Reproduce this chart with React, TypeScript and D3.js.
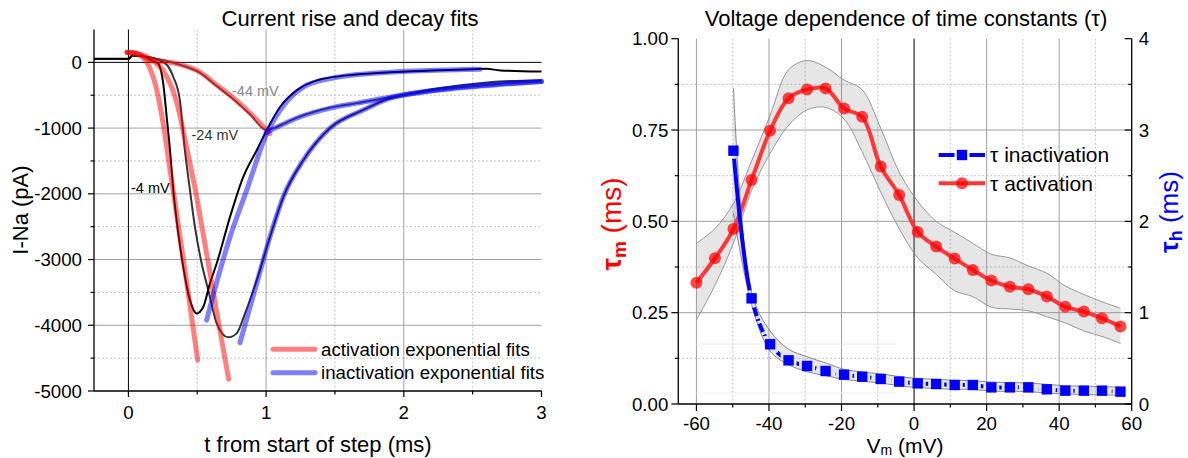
import React from 'react';
import * as d3 from 'd3';

const FONT = "'Liberation Sans', Arial, Helvetica, sans-serif";

// ---------- Left panel: current traces (t in ms, I in pA) ----------
const traceNeg4: number[][] = [
  [-0.25, 55], [0, 55], [0.03, 105], [0.1, 95], [0.16, 40], [0.217, -20], [0.253, -324], [0.278, -831],
  [0.302, -1337], [0.326, -1945], [0.362, -2603], [0.398, -3111], [0.447, -3617], [0.496, -3819],
  [0.544, -3718], [0.592, -3363], [0.641, -3060], [0.738, -2351], [0.834, -1743], [0.932, -1337],
  [1.004, -1033], [1.101, -679], [1.222, -426], [1.368, -274], [1.586, -198], [1.9, -150], [2.2, -125],
  [2.5, -105], [2.6, -98], [2.7, -122], [3.0, -140],
];
const traceNeg24: number[][] = [
  [-0.25, 50], [0, 50], [0.03, 105], [0.1, 95], [0.2, 50], [0.28, -40], [0.326, -223], [0.374, -578],
  [0.41, -1337], [0.447, -1945], [0.483, -2503], [0.532, -3060], [0.58, -3465], [0.641, -3971],
  [0.725, -4184], [0.786, -4123], [0.847, -3819], [0.932, -3313], [1.028, -2655], [1.125, -2047],
  [1.27, -1489], [1.464, -1000], [1.71, -720], [1.9, -545], [2.0, -495], [2.31, -380], [2.77, -285], [3.0, -275],
];
const traceNeg44: number[][] = [
  [-0.25, 50], [0, 50], [0.03, 105], [0.1, 95], [0.2, 60], [0.35, -20], [0.52, -160], [0.641, -360],
  [0.762, -560], [0.883, -790], [1.004, -1030], [1.1, -960], [1.22, -845], [1.46, -690], [1.66, -620],
  [1.9, -530], [2.3, -405], [2.7, -325], [3.0, -290],
];
const actFitNeg4: number[][] = [
  [-0.01, 150], [0.05, 140], [0.1, 90], [0.15, -60], [0.2, -370], [0.25, -900], [0.3, -1600],
  [0.35, -2300], [0.42, -3300], [0.503, -4530],
];
const actFitNeg24: number[][] = [
  [-0.01, 150], [0.05, 140], [0.12, 100], [0.18, 20], [0.25, -120], [0.35, -600], [0.423, -1300],
  [0.496, -2050], [0.544, -2620], [0.592, -3200], [0.641, -3800], [0.728, -4820],
];
const actFitNeg44: number[][] = [
  [-0.01, 150], [0.05, 140], [0.156, 40], [0.35, -20], [0.52, -150], [0.641, -345], [0.762, -540],
  [0.883, -770], [1.028, -1084],
];
const inactFitNeg4: number[][] = [
  [0.568, -3921], [0.65, -3280], [0.738, -2655], [0.859, -1945], [1.004, -1084], [1.101, -729],
  [1.27, -375], [1.464, -248], [1.9, -150], [2.2, -122], [2.555, -106],
];
const inactFitNeg24: number[][] = [
  [0.81, -4266], [0.932, -3363], [1.028, -2655], [1.125, -2047], [1.27, -1489], [1.464, -1000],
  [1.71, -720], [1.9, -545], [2.3, -405], [2.7, -330], [3.0, -290],
];
const inactFitNeg44: number[][] = [
  [1.0, -1070], [1.1, -965], [1.22, -850], [1.46, -700], [1.66, -620], [1.9, -530], [2.3, -410],
  [2.7, -335], [3.0, -292],
];
const xTicksLeft = [0, 1, 2, 3];
const xMinorLeft = [0.5, 1.5, 2.5];
const yTicksLeft = [0, -1000, -2000, -3000, -4000, -5000];
const yMinorLeft = [-500, -1500, -2500, -3500, -4500];

// ---------- Right panel: time constants vs voltage ----------
const voltages = [
  -60, -54.9, -49.8, -44.8, -39.7, -34.6, -29.5, -24.4, -19.3, -14.3, -9.2, -4.1,
  1.0, 6.1, 11.2, 16.2, 21.3, 26.4, 31.5, 36.6, 41.7, 46.8, 51.8, 56.9,
];
const tauAct = [
  0.332, 0.399, 0.479, 0.613, 0.748, 0.837, 0.861, 0.864, 0.809, 0.786, 0.650, 0.572,
  0.471, 0.431, 0.398, 0.367, 0.338, 0.321, 0.314, 0.294, 0.266, 0.253, 0.235, 0.212,
];
const tauActUpper = [
  0.44, 0.48, 0.549, 0.665, 0.79, 0.915, 0.94, 0.922, 0.887, 0.86, 0.755, 0.635,
  0.555, 0.50, 0.47, 0.44, 0.41, 0.40, 0.378, 0.358, 0.323, 0.30, 0.28, 0.262,
];
const tauActLower = [
  0.23, 0.325, 0.44, 0.585, 0.686, 0.763, 0.805, 0.812, 0.78, 0.69, 0.58, 0.48,
  0.40, 0.355, 0.31, 0.294, 0.265, 0.26, 0.255, 0.239, 0.222, 0.20, 0.185, 0.166,
];
const voltagesInact = [
  -49.8, -44.8, -39.7, -34.6, -29.5, -24.4, -19.3, -14.3, -9.2, -4.1,
  1.0, 6.1, 11.2, 16.2, 21.3, 26.4, 31.5, 36.6, 41.7, 46.8, 51.8, 56.9,
];
const tauInact = [
  2.774, 1.157, 0.654, 0.478, 0.416, 0.361, 0.321, 0.299, 0.274, 0.245,
  0.226, 0.219, 0.208, 0.208, 0.182, 0.182, 0.182, 0.161, 0.146, 0.146, 0.146, 0.135,
];
const tauInactUpper = [
  3.46, 1.22, 0.80, 0.60, 0.518, 0.45, 0.38, 0.35, 0.33, 0.30,
  0.28, 0.27, 0.26, 0.255, 0.24, 0.235, 0.23, 0.215, 0.20, 0.195, 0.19, 0.185,
];
const tauInactLower = [
  2.09, 1.09, 0.58, 0.43, 0.354, 0.31, 0.27, 0.25, 0.23, 0.20,
  0.18, 0.17, 0.16, 0.16, 0.14, 0.14, 0.135, 0.12, 0.11, 0.105, 0.10, 0.095,
];
const xTicksRight = [-60, -40, -20, 0, 20, 40, 60];
const xMinorRight = [-50, -30, -10, 10, 30, 50];
const yTicksRightL = [0, 0.25, 0.5, 0.75, 1.0];
const yMinorRightL = [0.125, 0.375, 0.625, 0.875];
const yTicksRightR = [0, 1, 2, 3, 4];
const yMinorRightR = [0.5, 1.5, 2.5, 3.5];

export default function App() {
  const W = 1188, H = 458;
  const xL = d3.scaleLinear().domain([-0.25, 3]).range([94, 541.5]);
  const yL = d3.scaleLinear().domain([-5000, 500]).range([391, 29.5]);
  const xR = d3.scaleLinear().domain([-65, 60]).range([678.3, 1131.7]);
  const yR = d3.scaleLinear().domain([0, 1]).range([404, 38.7]);
  const yR2 = d3.scaleLinear().domain([0, 4]).range([404, 38.7]);

  const lineL = d3.line<number[]>().x(d => xL(d[0])).y(d => yL(d[1])).curve(d3.curveMonotoneX);

  const actPts = voltages.map((v, i) => [xR(v), yR(tauAct[i])]);
  const inactPts = voltagesInact.map((v, i) => [xR(v), yR2(tauInact[i])]);
  const lineXY = d3.line<number[]>().x(d => d[0]).y(d => d[1]).curve(d3.curveCatmullRom.alpha(0.5));

  const actBand = d3.area<number>()
    .x((_, i) => xR(voltages[i]))
    .y0((_, i) => yR(tauActLower[i]))
    .y1((_, i) => yR(tauActUpper[i]))
    .curve(d3.curveCatmullRom.alpha(0.5));
  const actUpLine = d3.line<number>().x((_, i) => xR(voltages[i])).y(d => yR(d)).curve(d3.curveCatmullRom.alpha(0.5));
  const inBand = d3.area<number>()
    .x((_, i) => xR(voltagesInact[i]))
    .y0((_, i) => yR2(tauInactLower[i]))
    .y1((_, i) => yR2(tauInactUpper[i]))
    .curve(d3.curveCatmullRom.alpha(0.5));
  const inEdge = d3.line<number>().x((_, i) => xR(voltagesInact[i])).y(d => yR2(d)).curve(d3.curveCatmullRom.alpha(0.5));

  // dash pattern for the inactivation line: long first dash, then dash-dot
  const firstLen = Math.hypot(inactPts[1][0] - inactPts[0][0], inactPts[1][1] - inactPts[0][1]) * 1.03 + 2;
  const dash: number[] = [firstLen];
  let acc = firstLen;
  while (acc < 1500) { dash.push(3, 9, 3, 2); acc += 17; }
  dash.push(3);

  const gridSolid = '#a0a0a0';
  const gridDot = '#c4c4c4';

  const yTop = yL(500), yBot = yL(-5000);
  const xLeft = xL(-0.25), xRight = xL(3);
  const rTop = yR(1), rBot = yR(0), rLeft = xR(-65), rRight = xR(60);

  return (
    <svg width={W} height={H} style={{ position: 'absolute', left: 0, top: 0, background: '#fff' }} fontFamily={FONT}>
      <rect x={0} y={0} width={W} height={H} fill="#fff" />
      <defs>
        <mask id="gapMask" maskUnits="userSpaceOnUse" x={0} y={0} width={W} height={H}>
          <rect x={0} y={0} width={W} height={H} fill="white" />
          {inactPts.map((p, i) => (
            <rect key={i} x={p[0] - 8} y={p[1] - 8} width={16} height={16} fill="black" />
          ))}
        </mask>
      </defs>

      {/* ================= LEFT PANEL ================= */}
      <g>
        {xMinorLeft.map(t => (
          <line key={'lvx' + t} x1={xL(t)} x2={xL(t)} y1={yTop} y2={yBot} stroke={gridDot} strokeDasharray="2,2" />
        ))}
        {yMinorLeft.map(v => (
          <line key={'lhy' + v} x1={xLeft} x2={xRight} y1={yL(v)} y2={yL(v)} stroke={gridDot} strokeDasharray="2,2" />
        ))}
        {[1, 2].map(t => (
          <line key={'lvs' + t} x1={xL(t)} x2={xL(t)} y1={yTop} y2={yBot} stroke={gridSolid} />
        ))}
        {[-1000, -2000, -3000, -4000].map(v => (
          <line key={'lhs' + v} x1={xLeft} x2={xRight} y1={yL(v)} y2={yL(v)} stroke={gridSolid} />
        ))}
        <line x1={xL(0)} x2={xL(0)} y1={yTop} y2={yBot} stroke="#000" />
        <line x1={xLeft} x2={xRight} y1={yL(0)} y2={yL(0)} stroke="#000" />

        {/* traces */}
        <path d={lineL(traceNeg44) || ''} fill="none" stroke="#555" strokeWidth={2} />
        <path d={lineL(traceNeg24) || ''} fill="none" stroke="#333" strokeWidth={2} />
        <path d={lineL(traceNeg4) || ''} fill="none" stroke="#000" strokeWidth={2} />

        {/* fits */}
        {[actFitNeg44, actFitNeg24, actFitNeg4].map((f, i) => (
          <path key={'af' + i} d={lineL(f) || ''} fill="none" stroke="rgb(255,0,0)" strokeOpacity={0.5} strokeWidth={5} strokeLinecap="round" />
        ))}
        {[inactFitNeg44, inactFitNeg24, inactFitNeg4].map((f, i) => (
          <path key={'if' + i} d={lineL(f) || ''} fill="none" stroke="rgb(0,0,255)" strokeOpacity={0.5} strokeWidth={5} strokeLinecap="round" />
        ))}

        {/* trace labels */}
        <text x={232} y={96} fontSize={14.5} fill="#888">-44 mV</text>
        <text x={191.5} y={139.5} fontSize={14.5} fill="#333">-24 mV</text>
        <text x={131} y={192.5} fontSize={14.5} fill="#000">-4 mV</text>

        {/* axes */}
        <line x1={xLeft} x2={xLeft} y1={yTop} y2={yBot} stroke="#000" strokeWidth={1.3} />
        <line x1={xLeft} x2={xRight} y1={yBot} y2={yBot} stroke="#000" strokeWidth={1.3} />
        {yTicksLeft.map(v => (
          <g key={'lyt' + v}>
            <line x1={xLeft - 6} x2={xLeft} y1={yL(v)} y2={yL(v)} stroke="#000" strokeWidth={1.2} />
            <text x={xLeft - 12} y={yL(v)} dy="0.35em" textAnchor="end" fontSize={18.7}>{v}</text>
          </g>
        ))}
        {yMinorLeft.map(v => (
          <line key={'lym' + v} x1={xLeft - 3.5} x2={xLeft} y1={yL(v)} y2={yL(v)} stroke="#000" strokeWidth={1.2} />
        ))}
        {xTicksLeft.map(t => (
          <g key={'lxt' + t}>
            <line x1={xL(t)} x2={xL(t)} y1={yBot} y2={yBot + 6} stroke="#000" strokeWidth={1.2} />
            <text x={xL(t)} y={419} textAnchor="middle" fontSize={18.7}>{t}</text>
          </g>
        ))}
        {xMinorLeft.map(t => (
          <line key={'lxm' + t} x1={xL(t)} x2={xL(t)} y1={yBot} y2={yBot + 3.5} stroke="#000" strokeWidth={1.2} />
        ))}

        {/* titles */}
        <text x={350} y={25.5} textAnchor="middle" fontSize={22}>Current rise and decay fits</text>
        <text x={318} y={452} textAnchor="middle" fontSize={22}>t from start of step (ms)</text>
        <text transform="translate(28,210) rotate(-90)" textAnchor="middle" fontSize={22}>I-Na (pA)</text>

        {/* legend */}
        <line x1={273} x2={315} y1={349.3} y2={349.3} stroke="rgb(255,0,0)" strokeOpacity={0.5} strokeWidth={5} strokeLinecap="round" />
        <text x={321} y={355.5} fontSize={18.7}>activation exponential fits</text>
        <line x1={273} x2={315} y1={372.7} y2={372.7} stroke="rgb(0,0,255)" strokeOpacity={0.5} strokeWidth={5} strokeLinecap="round" />
        <text x={321} y={379} fontSize={18.7}>inactivation exponential fits</text>
      </g>

      {/* ================= RIGHT PANEL ================= */}
      <g>
        {xMinorRight.map(v => (
          <line key={'rvx' + v} x1={xR(v)} x2={xR(v)} y1={rTop} y2={rBot} stroke={gridDot} strokeDasharray="2,2" />
        ))}
        {yMinorRightL.map(v => (
          <line key={'rhy' + v} x1={rLeft} x2={rRight} y1={yR(v)} y2={yR(v)} stroke={gridDot} strokeDasharray="2,2" />
        ))}
        {[-60, -40, -20, 20, 40].map(v => (
          <line key={'rvs' + v} x1={xR(v)} x2={xR(v)} y1={rTop} y2={rBot} stroke={gridSolid} />
        ))}
        {[0.25, 0.5, 0.75].map(v => (
          <line key={'rhs' + v} x1={rLeft} x2={rRight} y1={yR(v)} y2={yR(v)} stroke={gridSolid} />
        ))}
        {[0.164, 0.03].map(v => (
          <line key={'rf' + v} x1={xR(-60)} x2={xR(-5)} y1={yR(v)} y2={yR(v)} stroke="#ededed" />
        ))}
        <line x1={xR(0)} x2={xR(0)} y1={rTop} y2={rBot} stroke="#000" />

        {/* confidence bands */}
        <path d={actBand(tauAct) || ''} fill="rgba(128,128,128,0.2)" stroke="none" />
        <path d={actUpLine(tauActUpper) || ''} fill="none" stroke="#8c8c8c" strokeWidth={0.9} />
        <path d={actUpLine(tauActLower) || ''} fill="none" stroke="#8c8c8c" strokeWidth={0.9} />
        <path d={inBand(tauInact) || ''} fill="rgba(128,128,128,0.2)" stroke="none" />
        <path d={inEdge(tauInactUpper) || ''} fill="none" stroke="#7a7a7a" strokeWidth={0.9} />
        <path d={inEdge(tauInactLower) || ''} fill="none" stroke="#7a7a7a" strokeWidth={0.9} />

        {/* activation */}
        <path d={lineXY(actPts) || ''} fill="none" stroke="rgb(255,55,55)" strokeWidth={4} />
        {actPts.map((p, i) => (
          <circle key={'ac' + i} cx={p[0]} cy={p[1]} r={6} fill="rgb(255,0,0)" fillOpacity={0.72} />
        ))}

        {/* inactivation */}
        <path d={lineXY(inactPts) || ''} fill="none" stroke="#0000ff" strokeWidth={4} mask="url(#gapMask)" strokeDasharray={dash.join(' ')} />
        {inactPts.map((p, i) => (
          <rect key={'sq' + i} x={p[0] - 5.2} y={p[1] - 5.2} width={10.4} height={10.4} fill="#0000ff" />
        ))}

        {/* axes */}
        <line x1={rLeft} x2={rLeft} y1={rTop} y2={rBot} stroke="#000" strokeWidth={1.3} />
        <line x1={rRight} x2={rRight} y1={rTop} y2={rBot} stroke="#000" strokeWidth={1.3} />
        <line x1={rLeft} x2={rRight} y1={rBot} y2={rBot} stroke="#000" strokeWidth={1.3} />
        {yTicksRightL.map(v => (
          <g key={'ryl' + v}>
            <line x1={rLeft - 7} x2={rLeft} y1={yR(v)} y2={yR(v)} stroke="#000" strokeWidth={1.2} />
            <text x={rLeft - 10} y={yR(v)} dy="0.35em" textAnchor="end" fontSize={18.7}>{v.toFixed(2)}</text>
          </g>
        ))}
        {yMinorRightL.map(v => (
          <line key={'rylm' + v} x1={rLeft - 3.5} x2={rLeft} y1={yR(v)} y2={yR(v)} stroke="#000" strokeWidth={1.2} />
        ))}
        {yTicksRightR.map(v => (
          <g key={'ryr' + v}>
            <line x1={rRight - 7} x2={rRight} y1={yR2(v)} y2={yR2(v)} stroke="#000" strokeWidth={1.2} />
            <text x={rRight + 7} y={yR2(v)} dy="0.35em" textAnchor="start" fontSize={18.7}>{v}</text>
          </g>
        ))}
        {yMinorRightR.map(v => (
          <line key={'ryrm' + v} x1={rRight - 3.5} x2={rRight} y1={yR2(v)} y2={yR2(v)} stroke="#000" strokeWidth={1.2} />
        ))}
        {xTicksRight.map(v => (
          <g key={'rxt' + v}>
            <line x1={xR(v)} x2={xR(v)} y1={rBot} y2={rBot + 7} stroke="#000" strokeWidth={1.2} />
            <text x={xR(v)} y={430} textAnchor="middle" fontSize={18.7}>{v}</text>
          </g>
        ))}
        {xMinorRight.map(v => (
          <line key={'rxm' + v} x1={xR(v)} x2={xR(v)} y1={rBot} y2={rBot + 3.5} stroke="#000" strokeWidth={1.2} />
        ))}

        {/* titles */}
        <text x={906} y={26} textAnchor="middle" fontSize={22}>Voltage dependence of time constants (τ)</text>
        <text x={905} y={452.5} textAnchor="middle" fontSize={21}>
          V<tspan fontSize={14} dy={2}>m</tspan><tspan dy={-2}> (mV)</tspan>
        </text>
        <text transform="translate(621,224) rotate(-90)" textAnchor="middle" fontSize={28} fill="#ff0000">
          <tspan fontWeight="bold">τ</tspan><tspan fontSize={19} fontWeight="bold" dy={5}>m</tspan><tspan dy={-5}> (ms)</tspan>
        </text>
        <text transform="translate(1178,212) rotate(-90)" textAnchor="middle" fontSize={26} fill="#0000ff">
          <tspan fontWeight="bold">τ</tspan><tspan fontSize={18} fontWeight="bold" dy={4}>h</tspan><tspan dy={-4}> (ms)</tspan>
        </text>

        {/* legend */}
        <line x1={938.7} x2={954.5} y1={155} y2={155} stroke="#0000ff" strokeWidth={4} />
        <line x1={969.5} x2={985} y1={155} y2={155} stroke="#0000ff" strokeWidth={4} />
        <rect x={956.8} y={149.8} width={10.4} height={10.4} fill="#0000ff" />
        <text x={990} y={162} fontSize={21}>τ inactivation</text>
        <line x1={938.7} x2={985} y1={183.3} y2={183.3} stroke="rgb(255,55,55)" strokeWidth={4} />
        <circle cx={962} cy={183.3} r={6} fill="rgb(255,0,0)" fillOpacity={0.72} />
        <text x={990} y={190.5} fontSize={21}>τ activation</text>
      </g>
    </svg>
  );
}
